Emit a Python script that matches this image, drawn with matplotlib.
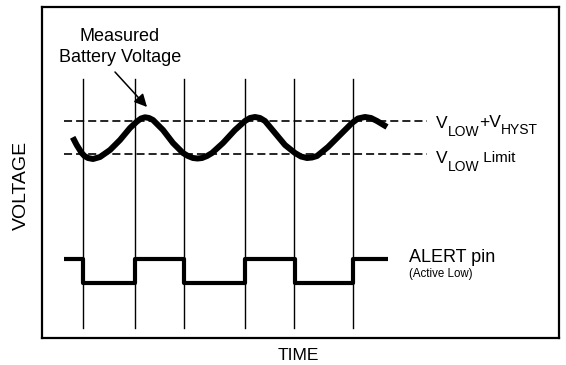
import matplotlib
matplotlib.use("Agg")
import matplotlib.pyplot as plt

plt.rcParams['font.family'] = ['Liberation Sans', 'DejaVu Sans']
plt.rcParams['lines.scale_dashes'] = False

# time axis and voltage axis are in picture units (px from left / from bottom)
wave_t = [72.7, 76.7, 81.7, 84.5, 88, 93, 100, 110, 120, 130, 136.7, 141, 145,
          149, 153, 163, 173, 183, 188, 193, 197.5, 202, 207, 212, 223, 235,
          245, 250, 255, 260, 265, 275, 285, 295, 301, 307, 312, 317, 328,
          340, 352, 358, 365, 371, 377, 382, 387]
wave_v = [227.7, 220, 212, 209, 207, 206, 208, 215, 225, 237, 243.3, 246.5,
          247.7, 247, 245, 235, 222, 212, 209, 207, 206.5, 207, 209, 212, 222,
          235, 244, 247, 248, 247, 244, 232, 220, 212, 208.5, 207, 207.5, 209,
          218, 230, 242, 246.5, 248, 247, 244, 241, 238]

v_hyst = 244      # V_LOW + V_HYST
v_low = 211       # V_LOW limit
dash_t = [64, 427]

alert_t = [64, 83, 135, 184, 245, 295, 353, 388]
alert_v = [106, 82, 106, 82, 106, 82, 106, 106]

mark_t = [83, 135, 184, 245, 294, 353]
mark_v = [37, 286]

fig = plt.figure(figsize=(5.66, 3.65), dpi=100)
ax = fig.add_axes([41.7 / 566, 27 / 365, (559 - 41.7) / 566, (358 - 27) / 365])
ax.set_xlim(41.7, 559)
ax.set_ylim(27, 358)
ax.set_xticks([])
ax.set_yticks([])
for s in ax.spines.values():
    s.set_linewidth(1.6)

for t in mark_t:
    ax.plot([t, t], mark_v, color='black', lw=1.0)

ax.plot(dash_t, [v_hyst, v_hyst], color='black', lw=1.2, dashes=(5.8, 2.9))
ax.plot(dash_t, [v_low, v_low], color='black', lw=1.2, dashes=(5.8, 2.9))

ax.plot(wave_t, wave_v, color='black', lw=4.3, solid_capstyle='butt',
        solid_joinstyle='round')
ax.plot(alert_t, alert_v, color='black', lw=3.0, drawstyle='steps-post',
        solid_capstyle='butt')

ax.annotate('', xy=(147, 258), xytext=(115, 293),
            arrowprops=dict(arrowstyle='-|>', color='black', lw=1.1,
                            mutation_scale=19, shrinkA=0, shrinkB=0))
ax.text(120, 318, 'Measured\nBattery Voltage', ha='center', va='center',
        fontsize=13, linespacing=1.3)

# V_LOW + V_HYST label, built from pieces
fs, fs_sub = 12.5, 10
t1 = ax.text(436, 237, 'V', fontsize=fs, va='baseline')
t2 = ax.annotate('LOW', xy=(1, 0), xycoords=t1, xytext=(0, -3.5),
                 textcoords='offset points', fontsize=fs_sub, va='baseline')
t3 = ax.annotate('+V', xy=(1, 0), xycoords=(t2, t1), xytext=(0, 1),
                 textcoords='offset points', fontsize=fs, va='bottom')
ax.annotate('HYST', xy=(1, 0), xycoords=t3, xytext=(0, -3.5),
            textcoords='offset points', fontsize=fs_sub, va='baseline')

t4 = ax.text(436, 202, 'V', fontsize=fs, va='baseline')
t5 = ax.annotate('LOW', xy=(1, 0), xycoords=t4, xytext=(0, -3.5),
                 textcoords='offset points', fontsize=fs_sub, va='baseline')
ax.annotate(' Limit', xy=(1, 0), xycoords=(t5, t4), xytext=(0, 0.5),
            textcoords='offset points', fontsize=11, va='bottom')

ax.text(409, 103, 'ALERT pin', fontsize=13, va='baseline')
ax.text(409, 88, '(Active Low)', fontsize=8.3, va='baseline')

fig.text(21.5 / 566, 1 - 185 / 365, 'VOLTAGE', rotation=90, ha='center',
         va='center', fontsize=14)
fig.text(298 / 566, 1 - 356 / 365, 'TIME', ha='center', va='center',
         fontsize=12.5)

fig.savefig('out.png', dpi=100)
